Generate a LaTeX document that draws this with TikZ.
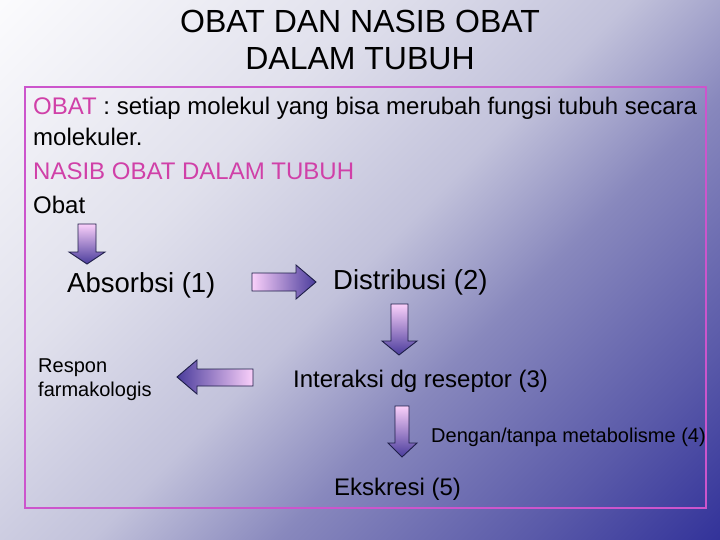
\documentclass[tikz,border=0pt]{standalone}
\usepackage{fontspec}
\setmainfont{Liberation Sans}
\definecolor{g0}{HTML}{FBFBFD}
\definecolor{g1}{HTML}{E0E0EC}
\definecolor{g2}{HTML}{C2C2DB}
\definecolor{g3}{HTML}{8888BD}
\definecolor{g4}{HTML}{5A5AA9}
\definecolor{g5}{HTML}{33339A}
\definecolor{pinktxt}{HTML}{D040A8}
\definecolor{pinkline}{HTML}{CC55CC}
\definecolor{arrpink}{HTML}{FAD0FA}
\definecolor{arrblue}{HTML}{4A3C9C}
\definecolor{arrline}{HTML}{1E1E48}
\pgfdeclareverticalshading{bgsh}{100bp}{color(0bp)=(g5); color(14.64bp)=(g5); color(25.24bp)=(g4); color(39.4bp)=(g3); color(50bp)=(g2); color(64.15bp)=(g1); color(85.36bp)=(g0); color(100bp)=(g0)}
\tikzset{
  titletxt/.style={anchor=base, inner sep=0pt, font=\fontsize{32}{36}\selectfont},
  bodytxt/.style={anchor=base west, inner sep=0pt, font=\fontsize{24}{28}\selectfont},
  bigtxt/.style={anchor=base west, inner sep=0pt, font=\fontsize{27.5}{32}\selectfont},
  midtxt/.style={anchor=base west, inner sep=0pt, font=\fontsize{24}{28}\selectfont},
  smalltxt/.style={anchor=base west, inner sep=0pt, font=\fontsize{20}{24}\selectfont},
  tinytxt/.style={anchor=base west, inner sep=0pt, font=\fontsize{20}{24}\selectfont},
  downarr/.style={draw=arrline, line width=0.9pt, top color=arrpink, bottom color=arrblue},
  rightarr/.style={draw=arrline, line width=0.9pt, left color=arrpink, right color=arrblue},
  leftarr/.style={draw=arrline, line width=0.9pt, left color=arrblue, right color=arrpink},
  frame/.style={draw=pinkline, line width=1.1pt}
}
\begin{document}
\begin{tikzpicture}[x=1pt,y=-1pt]
\useasboundingbox (0,0) rectangle (720,540);
\shade[shading=bgsh, shading angle=45] (0,0) rectangle (720,540);
\draw[frame] (25,87) rectangle (706,508);

\node[titletxt] (t1) at (360,33) {OBAT DAN NASIB OBAT};
\node[titletxt] (t2) at (360,70) {DALAM TUBUH};

\node[bodytxt] (def) at (33,115) {\textcolor{pinktxt}{OBAT} : setiap molekul yang bisa merubah fungsi tubuh secara};
\node[bodytxt] (def2) at (33,146) {molekuler.};
\node[bodytxt, text=pinktxt] (nasib) at (33,180) {NASIB OBAT DALAM TUBUH};
\node[bodytxt] (obat) at (33,214) {Obat};

\node[bigtxt] (abs) at (67,292) {Absorbsi (1)};
\node[bigtxt] (dis) at (333,289) {Distribusi (2)};
\node[tinytxt] (resp1) at (38,372) {Respon};
\node[tinytxt] (resp2) at (38,396) {farmakologis};
\node[midtxt] (inter) at (293,387) {Interaksi dg reseptor (3)};
\node[smalltxt] (meta) at (431,442) {Dengan/tanpa metabolisme (4)};
\node[midtxt] (eks) at (334,495) {Ekskresi (5)};

% block arrows
\shade[downarr] (78,224) -- (96,224) -- (96,252) -- (105,252) -- (87,264) -- (69,252) -- (78,252) -- cycle;
\shade[rightarr] (252,273) -- (296,273) -- (296,265) -- (316,282) -- (296,299) -- (296,291) -- (252,291) -- cycle;
\shade[downarr] (391,304) -- (408,304) -- (408,341) -- (417,341) -- (399,355) -- (382,341) -- (391,341) -- cycle;
\shade[leftarr] (253,369) -- (197,369) -- (197,360) -- (177,377) -- (197,394) -- (197,386) -- (253,386) -- cycle;
\shade[downarr] (395,406) -- (409,406) -- (409,443) -- (417,443) -- (402,457) -- (388,443) -- (395,443) -- cycle;
\end{tikzpicture}
\end{document}
